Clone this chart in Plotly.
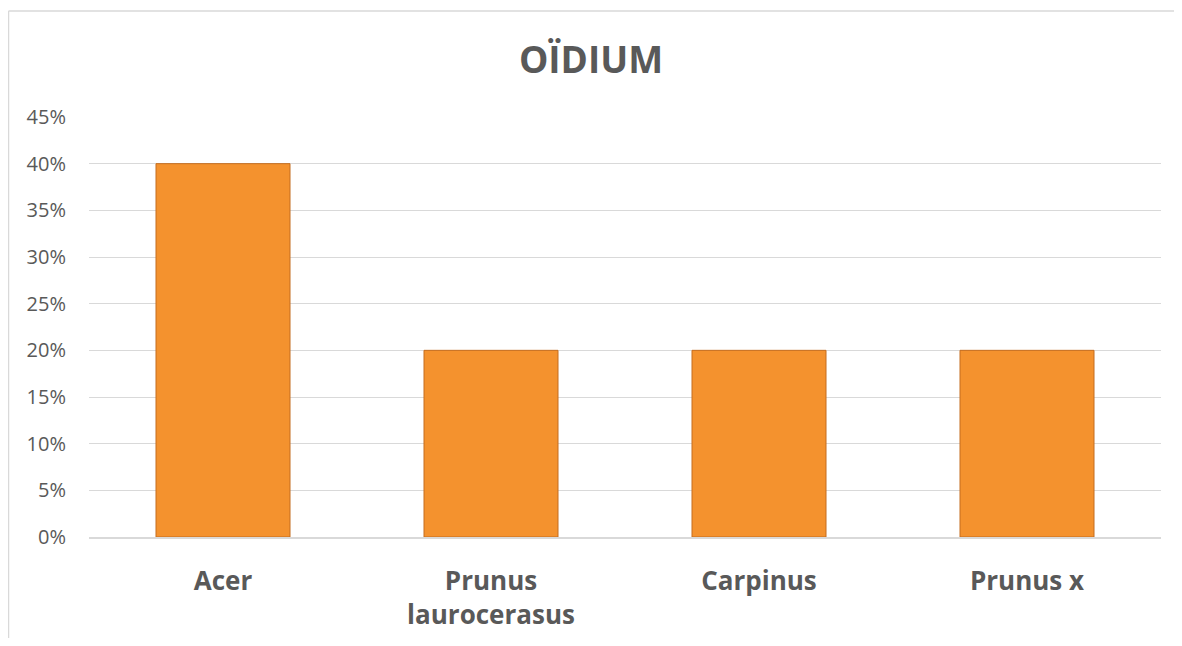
import plotly.graph_objects as go

# data
categories = ["Acer", "Prunus<br>laurocerasus", "Carpinus", "Prunus x"]
values = [0.40, 0.20, 0.20, 0.20]
tick_vals = [0, 0.05, 0.10, 0.15, 0.20, 0.25, 0.30, 0.35, 0.40, 0.45]

# the page body adds an 8px offset, so the figure is a bit smaller than the window
W, H = 1166, 630
L, T = 81, 109
PW, PH = 1072, 420
R, B = W - L - PW, H - T - PH

fig = go.Figure()
fig.add_trace(go.Bar(
    x=categories,
    y=values,
    width=0.5,
    marker=dict(color="#F4922E", line=dict(color="#C46C1E", width=1)),
    hoverinfo="x+y",
))

# chart frame (only left and top borders are visible in the reference)
x_left = (0.5 - L) / PW
y_top = (H - B - 3) / PH
fig.add_shape(type="line", xref="paper", yref="paper", x0=x_left, x1=x_left,
              y0=-B / PH, y1=y_top, line=dict(color="#D9D9D9", width=1.5))
fig.add_shape(type="line", xref="paper", yref="paper", x0=x_left, x1=(W - L) / PW,
              y0=y_top, y1=y_top, line=dict(color="#D9D9D9", width=1.5))

fig.update_layout(
    width=W, height=H,
    margin=dict(l=L, r=R, t=T, b=B),
    paper_bgcolor="white",
    plot_bgcolor="white",
    font=dict(family="Open Sans", color="#595959"),
    title=dict(text="<b>OÏDIUM</b>", x=0.5, xanchor="center", y=0.917, yanchor="middle",
               font=dict(size=37, color="#595959")),
    showlegend=False,
    bargap=0.5,
)
fig.update_yaxes(
    range=[0, 0.45],
    tickvals=tick_vals,
    tickformat=".0%",
    showgrid=True, gridcolor="#D9D9D9", gridwidth=1,
    zeroline=False,
    showline=False,
    ticks="",
    ticklabelstandoff=22,
    tickfont=dict(size=20, color="#595959"),
    automargin=False,
)
fig.update_xaxes(
    showline=True, linecolor="#D9D9D9", linewidth=1.5,
    ticks="",
    tickfont=dict(size=26, color="#595959", weight="bold"),
    ticklabelstandoff=20,
    automargin=False,
)

fig.write_html("out.html")
